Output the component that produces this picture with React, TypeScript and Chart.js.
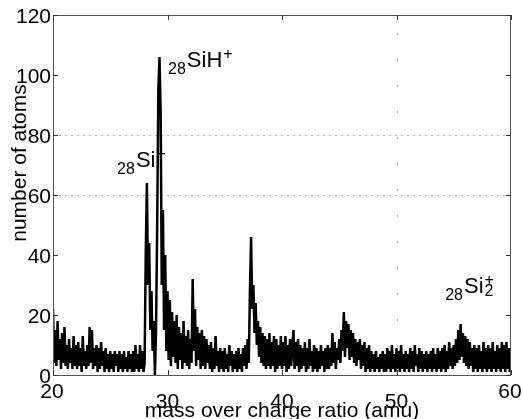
import React, { useEffect, useRef } from "react";
import { Chart, registerables } from "chart.js";

Chart.register(...registerables);

// mass/charge sampling (amu)
const mzStart = 20;
const mzStep = 0.1;

// number of atoms per bin, 20.0 .. 60.0 amu (step 0.1)
const counts20to29: number[] = [
  22, 4, 15, 3, 18, 5, 12, 2, 14, 4,
  16, 3, 10, 2, 12, 4, 9, 2, 13, 3,
  10, 2, 11, 3, 9, 1, 13, 3, 8, 2,
  10, 3, 16, 4, 15, 2, 9, 3, 10, 1,
  9, 2, 11, 3, 8, 1, 9, 2, 7, 1,
  8, 2, 7, 1, 8, 3, 7, 1, 8, 2,
  7, 1, 8, 2, 6, 1, 8, 2, 7, 1,
  8, 1, 10, 2, 7, 1, 10, 2, 8, 1,
  4, 40, 64, 30, 44, 15, 28, 8, 18, 0,
  15, 50, 95, 106, 88, 30, 55, 15, 40, 8,
];
const counts30to39: number[] = [
  28, 5, 25, 3, 21, 6, 18, 4, 20, 2,
  16, 5, 14, 2, 18, 4, 13, 3, 15, 2,
  12, 4, 32, 8, 22, 3, 16, 5, 14, 2,
  15, 3, 13, 2, 12, 4, 10, 2, 11, 1,
  9, 2, 13, 3, 8, 1, 9, 2, 8, 1,
  9, 2, 7, 1, 10, 3, 8, 1, 7, 2,
  8, 1, 9, 2, 7, 1, 9, 3, 10, 2,
  12, 4, 28, 46, 22, 30, 14, 24, 10, 18,
  6, 16, 4, 14, 3, 13, 2, 12, 3, 14,
  2, 11, 3, 13, 1, 12, 2, 10, 3, 13,
];
const counts40to49: number[] = [
  2, 11, 3, 13, 1, 10, 2, 12, 3, 9,
  15, 2, 11, 3, 12, 1, 10, 2, 9, 3,
  11, 1, 9, 2, 12, 3, 8, 1, 10, 2,
  9, 1, 8, 2, 10, 3, 8, 1, 9, 2,
  10, 2, 9, 3, 14, 4, 11, 2, 9, 5,
  12, 4, 15, 8, 21, 6, 18, 9, 17, 5,
  15, 6, 14, 4, 12, 3, 11, 5, 12, 2,
  10, 3, 11, 1, 9, 2, 10, 1, 8, 2,
  7, 1, 8, 2, 6, 1, 7, 2, 8, 1,
  7, 1, 9, 2, 8, 1, 10, 2, 7, 1,
];
const counts50to60: number[] = [
  9, 2, 8, 1, 10, 2, 7, 1, 8, 2,
  7, 1, 9, 2, 8, 1, 10, 3, 7, 1,
  9, 2, 8, 1, 7, 2, 8, 1, 7, 2,
  8, 1, 9, 2, 7, 1, 9, 2, 8, 1,
  9, 2, 10, 1, 8, 2, 11, 3, 9, 2,
  10, 3, 12, 4, 15, 5, 17, 6, 14, 4,
  13, 3, 12, 2, 11, 3, 9, 1, 10, 2,
  9, 1, 10, 2, 8, 1, 11, 2, 9, 1,
  10, 2, 9, 1, 11, 2, 8, 1, 10, 2,
  9, 1, 11, 2, 10, 1, 11, 2, 9, 1,
  8,
];

const xTicks = [20, 30, 40, 50, 60];
const yTicks = [0, 20, 40, 60, 80, 100, 120];
const xTitle = "mass over charge ratio (amu)";
const yTitle = "number of atoms";

// peak labels: anchor (amu, atoms) of the main text baseline start
const peakLabels = [
  { x: 25.6, y: 69.5, pre: "28", main: "Si", sup: "+", sub: "" },
  { x: 30.05, y: 102.7, pre: "28", main: "SiH", sup: "+", sub: "" },
  { x: 54.25, y: 27.3, pre: "28", main: "Si", sup: "+", sub: "2" },
];

const FONT = "'Liberation Sans', Arial, Helvetica, sans-serif";

const overlay = {
  id: "matlabFrame",
  beforeDatasetsDraw(chart: any) {
    const { ctx, chartArea: a, scales } = chart;
    ctx.save();
    ctx.strokeStyle = "#aaaaaa";
    ctx.lineWidth = 1;
    ctx.setLineDash([2, 4]);
    [60, 80].forEach((v) => {
      const y = Math.round(scales.y.getPixelForValue(v)) + 0.5;
      ctx.beginPath();
      ctx.moveTo(a.left, y);
      ctx.lineTo(a.right, y);
      ctx.stroke();
    });
    ctx.setLineDash([2, 24]);
    const gx = Math.round(scales.x.getPixelForValue(50)) + 0.5;
    ctx.beginPath();
    ctx.moveTo(gx, a.top + 18);
    ctx.lineTo(gx, a.bottom);
    ctx.stroke();
    ctx.restore();
  },
  afterDatasetsDraw(chart: any) {
    const { ctx, chartArea: a, scales } = chart;
    ctx.save();
    // frame
    ctx.strokeStyle = "#555555";
    ctx.lineWidth = 1;
    ctx.setLineDash([]);
    ctx.strokeRect(a.left + 0.5, a.top + 0.5, a.right - a.left - 1, a.bottom - a.top);
    // inner ticks
    ctx.strokeStyle = "#333333";
    const tl = 5;
    xTicks.forEach((v) => {
      const x = Math.round(scales.x.getPixelForValue(v)) + 0.5;
      ctx.beginPath();
      ctx.moveTo(x, a.top);
      ctx.lineTo(x, a.top + tl);
      ctx.moveTo(x, a.bottom);
      ctx.lineTo(x, a.bottom - tl);
      ctx.stroke();
    });
    yTicks.forEach((v) => {
      const y = Math.round(scales.y.getPixelForValue(v)) + 0.5;
      ctx.beginPath();
      ctx.moveTo(a.left, y);
      ctx.lineTo(a.left + tl, y);
      ctx.moveTo(a.right, y);
      ctx.lineTo(a.right - tl, y);
      ctx.stroke();
    });
    // tick labels
    ctx.fillStyle = "#000";
    ctx.font = `21px ${FONT}`;
    ctx.textAlign = "right";
    ctx.textBaseline = "alphabetic";
    yTicks.forEach((v) => {
      const y = scales.y.getPixelForValue(v);
      ctx.fillText(String(v), a.left - 2, y + 8);
    });
    ctx.textAlign = "center";
    xTicks.forEach((v, i) => {
      const x = scales.x.getPixelForValue(v);
      const end = i === 0 || i === xTicks.length - 1;
      ctx.fillText(String(v), end ? x - 1 : x, a.bottom + (end ? 23 : 33));
    });
    // axis titles
    ctx.font = `21px ${FONT}`;
    ctx.fillText(xTitle, (a.left + a.right) / 2, a.bottom + 42);
    ctx.save();
    ctx.translate(26, 163);
    ctx.rotate(-Math.PI / 2);
    ctx.fillText(yTitle, 0, 0);
    ctx.restore();
    // peak labels
    peakLabels.forEach((p) => {
      const x0 = scales.x.getPixelForValue(p.x);
      const yb = scales.y.getPixelForValue(p.y);
      ctx.textAlign = "left";
      ctx.font = `16px ${FONT}`;
      ctx.fillText(p.pre, x0, yb + 7);
      let x = x0 + ctx.measureText(p.pre).width + 1;
      ctx.font = `22px ${FONT}`;
      ctx.fillText(p.main, x, yb);
      x += ctx.measureText(p.main).width + 1;
      ctx.font = `16px ${FONT}`;
      if (p.sup) ctx.fillText(p.sup, x, yb - 8);
      if (p.sub) ctx.fillText(p.sub, x, yb + 3);
    });
    ctx.restore();
  },
};

export default function App() {
  const ref = useRef<HTMLCanvasElement | null>(null);
  useEffect(() => {
    document.body.style.margin = "0";
    const all = [...counts20to29, ...counts30to39, ...counts40to49, ...counts50to60];
    const points = all.map((c, i) => ({ x: +(mzStart + i * mzStep).toFixed(2), y: c }));
    const chart = new Chart(ref.current!, {
      type: "line",
      data: {
        datasets: [
          {
            data: points,
            borderColor: "#000000",
            borderWidth: 2.5,
            pointRadius: 0,
            tension: 0,
            fill: false,
          },
        ],
      },
      options: {
        responsive: false,
        animation: false,
        layout: { padding: { left: 53, right: 12, top: 15, bottom: 44 } },
        plugins: { legend: { display: false }, tooltip: { enabled: false } },
        scales: {
          x: { type: "linear", min: 20, max: 60, display: false },
          y: { type: "linear", min: 0, max: 120, display: false },
        },
      },
      plugins: [overlay],
    });
    return () => chart.destroy();
  }, []);
  return (
    <div style={{ width: 523, height: 419, background: "#fff" }}>
      <canvas ref={ref} width={523} height={419} style={{ display: "block" }} />
    </div>
  );
}
